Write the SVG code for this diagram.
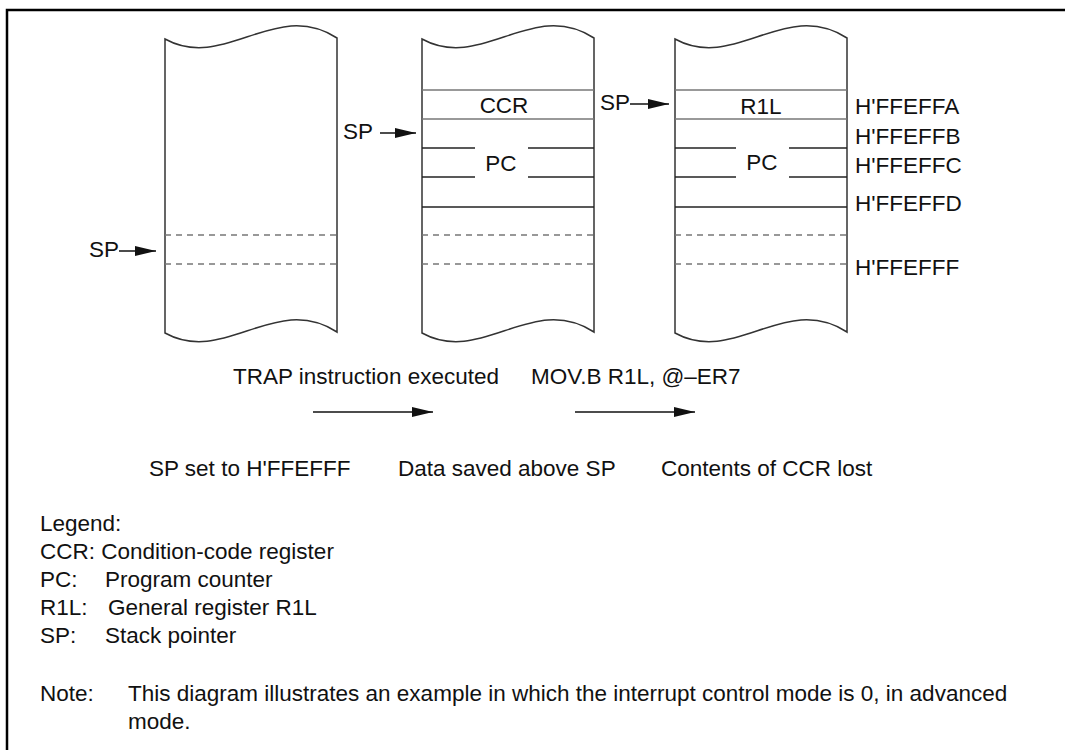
<svg xmlns="http://www.w3.org/2000/svg" width="1065" height="750" viewBox="0 0 1065 750">
<defs>
<style>
text{font-family:"Liberation Sans",Arial,sans-serif;font-size:22.5px;fill:#111}
.mid{text-anchor:middle}
.outline{fill:none;stroke:#333;stroke-width:1.5}
.gl{stroke:#777;stroke-width:1.5}
.bl{stroke:#222;stroke-width:1.3}
.dl{stroke:#777;stroke-width:1.3;stroke-dasharray:6 5}
.arr{stroke:#111;stroke-width:1.3;marker-end:url(#ah)}
</style>
<marker id="ah" markerUnits="userSpaceOnUse" markerWidth="21" markerHeight="10" refX="21" refY="5" orient="auto">
<path d="M0,0 L21,5 L0,10 z" fill="#111"/>
</marker>
<path id="stk" d="M0,39 c60,33 110,-41 172,-1 L172,332 c-62,-40 -112,34 -172,1 Z"/>
</defs>
<rect width="1065" height="750" fill="#fff"/>
<path d="M7,750 L7,10 L1065,10" fill="none" stroke="#000" stroke-width="2.5"/>

<g id="stack1">
<use href="#stk" x="165" class="outline"/>
<line x1="165" y1="235" x2="337" y2="235" class="dl"/>
<line x1="165" y1="264" x2="337" y2="264" class="dl"/>
</g>

<g id="stack2">
<use href="#stk" x="422" class="outline"/>
<line x1="422" y1="90" x2="594" y2="90" class="gl"/>
<line x1="422" y1="119" x2="594" y2="119" class="gl"/>
<line x1="422" y1="148" x2="475" y2="148" class="bl"/>
<line x1="528" y1="148" x2="594" y2="148" class="bl"/>
<line x1="422" y1="177" x2="475" y2="177" class="bl"/>
<line x1="528" y1="177" x2="594" y2="177" class="bl"/>
<line x1="422" y1="207" x2="594" y2="207" class="bl"/>
<line x1="422" y1="235" x2="594" y2="235" class="dl"/>
<line x1="422" y1="264" x2="594" y2="264" class="dl"/>
<text x="504" y="113" class="mid">CCR</text>
<text x="501" y="171" class="mid">PC</text>
</g>

<g id="stack3">
<use href="#stk" x="675" class="outline"/>
<line x1="675" y1="90" x2="847" y2="90" class="gl"/>
<line x1="675" y1="119" x2="847" y2="119" class="gl"/>
<line x1="675" y1="148" x2="736" y2="148" class="bl"/>
<line x1="789" y1="148" x2="847" y2="148" class="bl"/>
<line x1="675" y1="177" x2="736" y2="177" class="bl"/>
<line x1="789" y1="177" x2="847" y2="177" class="bl"/>
<line x1="675" y1="207" x2="847" y2="207" class="bl"/>
<line x1="675" y1="235" x2="847" y2="235" class="dl"/>
<line x1="675" y1="264" x2="847" y2="264" class="dl"/>
<text x="761" y="114" class="mid">R1L</text>
<text x="762" y="170" class="mid">PC</text>
</g>

<g id="addresses">
<text x="855" y="114">H'FFEFFA</text>
<text x="855" y="144">H'FFEFFB</text>
<text x="855" y="173">H'FFEFFC</text>
<text x="855" y="211">H'FFEFFD</text>
<text x="855" y="275">H'FFEFFF</text>
</g>

<g id="sp-labels">
<text x="89" y="257">SP</text>
<text x="343" y="139">SP</text>
<text x="600" y="110">SP</text>
</g>

<g id="connectors">
<line x1="119" y1="251" x2="156" y2="251" class="arr"/>
<line x1="380" y1="133" x2="416" y2="133" class="arr"/>
<line x1="630" y1="104" x2="669" y2="104" class="arr"/>
<line x1="313" y1="412" x2="433" y2="412" class="arr"/>
<line x1="575" y1="412" x2="695" y2="412" class="arr"/>
</g>

<g id="captions">
<text x="233" y="384">TRAP instruction executed</text>
<text x="531" y="384">MOV.B R1L, @–ER7</text>
<text x="149" y="476">SP set to H'FFEFFF</text>
<text x="398" y="476">Data saved above SP</text>
<text x="661" y="476">Contents of CCR lost</text>
</g>

<g id="legend">
<text x="40" y="531">Legend:</text>
<text x="40" y="559">CCR: Condition-code register</text>
<text x="40" y="587">PC:</text><text x="105" y="587">Program counter</text>
<text x="40" y="615">R1L:</text><text x="108" y="615">General register R1L</text>
<text x="40" y="643">SP:</text><text x="105" y="643">Stack pointer</text>
<text x="40" y="701">Note:</text><text x="128" y="701">This diagram illustrates an example in which the interrupt control mode is 0, in advanced</text>
<text x="128" y="729">mode.</text>
</g>
</svg>
